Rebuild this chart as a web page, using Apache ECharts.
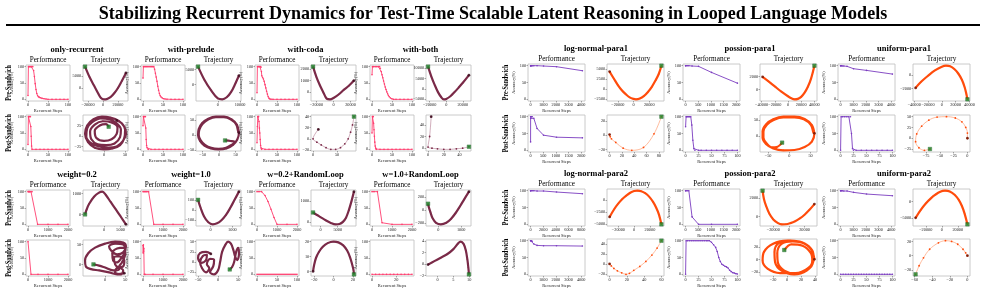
<!DOCTYPE html>
<html><head><meta charset="utf-8">
<script src="https://cdn.jsdelivr.net/npm/echarts@6/dist/echarts.min.js"></script>
<style>html,body{margin:0;padding:0;background:#fff}#c{width:985px;height:293px}</style>
</head><body><div id="c"></div>
<script>
// ---------------- DATA ----------------
const mainTitle = 'Stabilizing Recurrent Dynamics for Test-Time Scalable Latent Reasoning in Looped Language Models';
const groupNames = ['only-recurrent','with-prelude','with-coda','with-both','weight=0.2','weight=1.0','w=0.2+RandomLoop','w=1.0+RandomLoop',
  'log-normal-para1','possion-para1','uniform-para1','log-normal-para2','possion-para2','uniform-para2'];
const rowNames = ['Pre-Sandwich','Post-Sandwich'];
const panelTitles = ['Performance','Trajectory'];
const xName = 'Recurrent Steps';
const yName = 'Accuracy(%)';
const accTicks = [0,50,100];

// only-recurrent
const OR_prePerf = [[0,12],[1,100],[2,100],[4,100],[6,100],[8,100],[10,100],[12,100],[14,88],[16,70],[18,48],[20,30],[22,18],[24,11],[26,8],[28,6],[31,5],[35,3],[40,2],[45,1],[50,0],[60,0],[70,0],[80,0],[90,0],[100,0]];
const OR_postPerf = [[0,15],[1,100],[2,100],[4,100],[6,100],[7,70],[8,40],[9,10],[10,0],[20,0],[30,0],[40,0],[50,0],[60,0],[70,0],[80,0],[90,0],[100,0]];
const OR_preTraj = [[30700,6200],[25000,2800],[20000,0],[15000,-2200],[10000,-3800],[5000,-4600],[1000,-4700],[-3000,-4000],[-6000,-2500],[-12000,1000],[-18000,4500],[-24000,8800]];
const OR_postTraj = [[30,37],[42,30],[50,15],[48,-5],[38,-22],[20,-30],[0,-32],[-22,-28],[-38,-15],[-45,5],[-40,25],[-25,40],[-5,46],[15,44],[35,36],[48,22],[52,5],[45,-12],[30,-25],[10,-28],[-12,-25],[-30,-18],[-42,-2],[-40,18],[-28,33],[-8,42],[12,40],[30,30],[40,15],[38,-3],[25,-18],[5,-22],[-15,-20],[-30,-8],[-33,10],[-22,27],[-3,35],[18,32],[32,20],[30,5],[18,-8],[0,-12],[-18,-5],[-22,12],[-10,25],[5,28],[11,22]];
// with-prelude
const WP_prePerf = [[0,65],[1,100],[3,100],[6,100],[9,100],[12,100],[15,100],[18,100],[21,100],[24,100],[27,100],[29,92],[31,80],[33,68],[35,55],[37,40],[39,28],[41,18],[43,11],[45,7],[48,4],[51,2],[55,1],[60,0],[70,0],[80,0],[90,0],[100,0]];
const WP_postPerf = [[0,72],[1,100],[2,100],[4,100],[6,100],[7,65],[8,30],[9,12],[10,5],[12,1],[14,0],[20,0],[30,0],[40,0],[50,0],[60,0],[70,0],[80,0],[90,0],[100,0]];
const WP_preTraj = [[9500,3000],[8000,500],[6000,-2500],[4000,-4300],[2000,-5000],[0,-4700],[-3000,-2000],[-6000,1500],[-8900,6000]];
const WP_postTraj = [[60,8],[54,35],[38,53],[15,62],[-10,62],[-33,55],[-52,40],[-62,20],[-64,0],[-58,-20],[-45,-35],[-25,-45],[-2,-48],[22,-45],[42,-33],[55,-15],[60,8],[58,10],[52,35],[36,52],[14,60],[-10,60],[-32,53],[-50,38],[-60,18],[-62,0],[-56,-18],[-43,-33],[-24,-43],[-2,-46],[21,-43],[40,-31],[48,-24],[35,-20],[18,-18]];
// with-coda
const WC_prePerf = [[0,20],[1,100],[3,100],[5,100],[7,100],[9,100],[10,98],[11,85],[12,72],[14,67],[16,62],[18,55],[20,45],[22,35],[24,25],[26,16],[28,8],[30,3],[32,1],[35,0],[40,0],[50,0],[60,0],[70,0],[80,0],[90,0],[100,0]];
const WC_postPerf = [[0,20],[1,70],[2,100],[3,100],[4,100],[5,85],[6,65],[7,50],[8,30],[9,12],[10,4],[11,1],[12,0],[20,0],[30,0],[40,0],[50,0],[60,0],[70,0],[80,0],[90,0],[100,0]];
const WC_preTraj = [[24000,1000],[18000,550],[12000,200],[6000,-200],[0,-500],[-4000,-620],[-8000,-560],[-12000,0],[-16000,600],[-20000,1300],[-24000,2200]];
const WC_postTraj = [[11,17],[0,0],[8,-6],[17,-11],[27,-16],[37,-19],[47,-19],[57,-16],[66,-9],[73,0],[78,12],[82,25],[85,40]];
// with-both
const WB_prePerf = [[0,75],[1,100],[4,100],[8,100],[12,100],[16,100],[19,100],[21,95],[23,85],[25,75],[27,66],[29,56],[31,47],[33,38],[35,30],[37,23],[39,17],[41,12],[43,8],[46,4],[50,1],[54,0],[60,0],[70,0],[80,0],[90,0],[100,0]];
const WB_postPerf = [[0,50],[1,100],[2,100],[3,100],[4,80],[5,60],[6,40],[7,22],[8,10],[9,4],[10,1],[11,0],[20,0],[30,0],[40,0],[50,0],[60,0],[70,0],[80,0],[90,0],[100,0]];
const WB_preTraj = [[27400,6700],[20000,3000],[15000,700],[10000,-1500],[5000,-3500],[0,-4800],[-3000,-5000],[-6000,-4000],[-10000,-1500],[-14000,2000],[-18000,6000],[-22000,10800]];
const WB_postTraj = [[4,54],[2,20],[0,2],[5,0],[12,-1],[20,-2],[28,-2],[36,-1],[44,0],[52,2.5]];
// weight=0.2
const W02_prePerf = [[0,100],[25,100],[50,100],[75,100],[100,100],[150,100],[200,100],[480,0],[1000,0],[1500,0],[2000,0]];
const W02_postPerf = [[0,100],[150,0],[500,0],[1000,0],[1500,0],[2000,0]];
const W02_preTraj = [[6600,-480],[5000,-100],[3500,250],[2000,600],[500,950],[-500,1100],[-1500,1050],[-3000,850],[-4500,500],[-5200,250],[-5700,0]];
const W02_postTraj = [[48,-22],[30,-25],[10,-20],[-15,-15],[-35,-12],[-48,-5],[-50,10],[-42,28],[-25,42],[0,52],[25,57],[45,55],[52,45],[45,30],[30,25],[15,35],[10,45],[25,52],[45,50],[50,35],[40,15],[30,5],[20,10],[18,28],[30,40],[48,42],[50,25],[42,5],[35,-5],[45,-15],[40,-25],[25,-20],[30,-8],[45,-5],[48,10],[35,20],[22,18],[25,0],[35,-12],[20,-15],[0,-8],[-15,-3],[-29,0]];
// weight=1.0
const W10_prePerf = [[0,100],[50,100],[100,100],[150,100],[200,100],[280,100],[540,0],[1000,0],[1500,0],[2000,0]];
const W10_postPerf = [[0,88],[10,65],[20,90],[30,70],[40,80],[60,0],[100,0],[500,0],[1000,0],[1500,0],[2000,0]];
const W10_preTraj = [[1300,180],[1100,100],[900,20],[700,-50],[500,-100],[300,-130],[100,-140],[-100,-120],[-300,-60],[-450,20],[-570,100]];
const W10_postTraj = [[-18,20],[-30,25],[-45,22],[-50,10],[-42,-2],[-30,5],[-28,18],[-38,15],[-45,0],[-40,-15],[-30,-25],[-22,-15],[-28,-5],[-20,8],[-10,5],[-12,-10],[-20,-25],[-10,-30],[0,-20],[5,0],[10,25],[18,42],[25,50],[32,45],[38,30],[42,15],[48,5],[52,20],[50,35],[45,25],[40,0],[35,-12],[29,-18]];
// w=0.2+RandomLoop
const W02R_prePerf = [[0,100],[100,100],[230,100],[400,88],[550,70],[700,46],[850,21],[1000,0],[1500,0],[2000,0]];
const W02R_postPerf = [[0,0],[5,0],[10,0],[15,0],[20,0],[25,0],[30,0],[35,0],[40,0],[45,0],[50,0],[55,0],[60,0],[65,0],[70,0],[75,0],[80,0],[85,0],[90,0],[95,0],[100,0]];
const W02R_preTraj = [[9700,1450],[9000,1000],[8200,550],[7400,200],[6500,0],[5500,-100],[4400,-120],[3000,-50],[1500,80],[0,230],[-1000,330],[-2150,450]];
const W02R_postTraj = [[-21,0],[-20,4],[-18,9],[-15,13],[-11,16.5],[-6,19],[0,20],[5,19.5],[10,17.5],[14,14],[17,9.5],[19,5],[20.5,1],[21,-2]];
// w=1.0+RandomLoop
const W10R_prePerf = [[0,100],[100,100],[270,100],[500,5],[1000,0],[1500,0],[2000,0]];
const W10R_postPerf = [[0,0],[3,0],[6,0],[9,0],[12,0],[15,0],[18,0],[21,0],[24,0],[27,0],[30,0],[33,0]];
const W10R_preTraj = [[1340,290],[1150,180],[950,60],[750,-50],[550,-140],[350,-200],[110,-225],[-100,-200],[-250,-130],[-350,-30],[-420,50],[-450,100]];
const W10R_postTraj = [[-3,-0.1],[-1,0.5],[1,1.1],[3,1.7],[5,2.6],[6.5,3.6],[7.3,3.9],[8.2,3.5],[8.9,2.4],[9.4,0.8],[9.7,-0.6],[9.9,-1.8]];
// log-normal-para1
const LN1_prePerf = [[0,99],[1,100],[16,100],[64,100],[128,100],[256,100],[512,100],[1024,99],[2048,97],[4096,85]];
const LN1_postPerf = [[0,25],[1,95],[2,100],[4,100],[8,100],[16,100],[32,100],[64,100],[128,95],[256,65],[512,45],[1024,39],[2048,37]];
const LN1_preTraj = [[-30500,4400],[-25000,2600],[-20000,1000],[-15000,-300],[-10000,-1300],[-5000,-2100],[0,-2500],[3000,-2600],[8000,-2400],[13000,-1800],[18000,-800],[23000,500],[28000,2200],[32000,3800],[35400,5900]];
const LN1_postTraj = [[0,1],[1,-2],[3,-5],[10,-10],[22,-18],[36,-21],[55,-17],[72,2],[84,26]];
// possion-para1
const PO1_prePerf = [[0,100],[1,100],[16,100],[64,100],[128,100],[256,99],[512,98],[1024,80],[2048,48]];
const PO1_postPerf = [[0,70],[1,100],[2,100],[4,100],[6,100],[8,100],[10,100],[12,75],[14,30],[16,5],[18,0],[25,0],[30,0],[40,0],[50,0],[60,0],[70,0],[80,0],[90,0],[100,0]];
const PO1_preTraj = [[-38500,1950],[-30000,1300],[-20000,500],[-10000,-300],[0,-1000],[5000,-1300],[9700,-1470],[15000,-1400],[20000,-1100],[25000,-500],[30000,400],[35000,1700],[40100,3670]];
const PO1_postTraj = [[59,9],[53,35],[36,54],[12,61],[-14,61],[-38,53],[-55,37],[-63,15],[-63,-5],[-55,-24],[-38,-38],[-14,-44],[12,-43],[36,-34],[53,-17],[59,9],[57,10],[51,35],[34,53],[12,59],[-14,59],[-37,51],[-53,36],[-61,15],[-61,-5],[-53,-23],[-40,-35],[-30,-34],[-17,-20]];
// uniform-para1
const UN1_prePerf = [[0,100],[1,100],[16,100],[64,100],[128,99],[256,99],[512,98],[1024,91],[2048,86],[4096,75]];
const UN1_postPerf = [[0,0],[1,100],[4,100],[8,100],[12,100],[16,100],[19,100],[21,50],[23,5],[25,0],[30,0],[40,0],[50,0],[60,0],[70,0],[80,0],[90,0],[100,0]];
const UN1_preTraj = [[-38000,-1900],[-30000,-1000],[-20000,-100],[-10000,700],[0,1250],[6000,1400],[12000,1300],[18000,900],[24000,200],[29000,-700],[33000,-1800],[35500,-2800],[37000,-3600]];
const UN1_postTraj = [[0,0],[0,12],[-3,25],[-10,38],[-22,47],[-38,50],[-55,49],[-70,42],[-83,28],[-92,10],[-94,-8],[-88,-22],[-78,-28],[-68,-25]];
// log-normal-para2
const LN2_prePerf = [[0,100],[1,100],[16,100],[64,100],[256,100],[512,100],[1024,99],[2048,99],[4096,96],[8192,91]];
const LN2_postPerf = [[0,100],[1,100],[16,100],[64,100],[128,98],[256,90],[512,86],[1024,85],[2048,85],[4096,84]];
const LN2_preTraj = [[-31200,-3480],[-25000,-1800],[-20000,-700],[-15000,200],[-10000,900],[-5000,1500],[0,1850],[4100,1920],[9000,1800],[14000,1400],[19000,700],[24000,-400],[28000,-1600],[31500,-3000],[34600,-5000]];
const LN2_postTraj = [[0,0],[2,-4],[5,-9],[9,-14],[14,-18],[19,-21],[23,-19],[28,-13],[35,-5],[42,5],[49,18],[55,32],[60,47]];
// possion-para2
const PO2_prePerf = [[0,100],[1,100],[16,100],[64,100],[128,100],[256,22],[512,0],[1024,0],[2048,0]];
const PO2_postPerf = [[0,0],[1,100],[4,100],[8,100],[12,100],[16,100],[20,100],[24,100],[28,100],[32,100],[36,100],[40,100],[43,100],[46,100],[50,95],[54,88],[58,80],[61,68],[64,50],[67,38],[70,30],[73,27],[76,24],[79,22],[82,19],[85,12],[88,8],[91,5],[94,4],[97,2],[100,1]];
const PO2_preTraj = [[32600,1340],[26000,700],[20000,200],[14000,-200],[8000,-500],[2000,-700],[-4000,-820],[-9300,-830],[-14000,-700],[-20000,-300],[-25000,300],[-29000,1100],[-32000,1900],[-33700,2780]];
const PO2_postTraj = [[39,0],[35,15],[22,27],[0,30],[-20,25],[-33,12],[-35,-2],[-28,-15],[-10,-22],[12,-22],[30,-14],[38,0],[36,14],[24,26],[5,30],[-12,26],[-18,12],[-17,-5],[-8,-18],[10,-24],[28,-18],[37,-4],[36,12],[25,25],[8,29],[-8,25],[-14,10],[-13,-6],[-4,-18],[12,-23],[29,-16],[36,-2],[34,10],[22,22],[6,24],[-4,15]];
// uniform-para2
const UN2_prePerf = [[0,100],[1,100],[16,100],[64,100],[128,100],[256,99],[512,99],[1024,95],[2048,90],[4096,85]];
const UN2_postPerf = [[0,0],[5,0],[10,0],[15,0],[20,0],[25,0],[30,0],[35,0],[40,0],[45,0],[50,0],[55,0],[60,0],[65,0],[70,0],[75,0],[80,0],[85,0],[90,0],[95,0],[100,0]];
const UN2_preTraj = [[-32700,-5000],[-26000,-2500],[-20000,-600],[-14000,900],[-8000,2100],[-2000,3000],[4000,3340],[10000,3100],[16000,2100],[21000,600],[25000,-1300],[28500,-3700],[32000,-7000]];
const UN2_postTraj = [[0,0],[-2,4],[-5,9],[-11,16],[-18,20],[-25,21],[-33,18],[-43,9],[-50,-3],[-55,-14],[-59,-26]];

// tick labels: [prePerfX, preTrajX, preTrajY, postPerfX, postTrajX, postTrajY]
const OR_ticks  = [[0,50,100],[-20000,0,20000],[0,5000],[0,50,100],[0,50],[-25,0,25,50]];
const WP_ticks  = [[0,50,100],[0,10000],[0,5000],[0,50,100],[-50,0,50],[-50,0,50]];
const WC_ticks  = [[0,50,100],[-20000,0,20000],[0,1000,2000],[0,50,100],[0,50],[-20,0,20,40]];
const WB_ticks  = [[0,50,100],[-20000,0,20000],[-5000,0,5000,10000],[0,50,100],[0,20,40],[0,20,40]];
const W02_ticks = [[0,1000,2000],[0,5000],[0,1000],[0,1000,2000],[0,50],[0,50]];
const W10_ticks = [[0,1000,2000],[0,1000],[-100,0,100],[0,1000,2000],[-50,0,50],[-25,0,25,50]];
const W02R_ticks= [[0,1000,2000],[0,5000],[0,1000],[0,50,100],[-20,0,20],[0,10,20]];
const W10R_ticks= [[0,1000,2000],[0,1000],[-200,0,200],[0,20],[0,5,10],[-2,0,2,4]];
const LN1_ticks = [[0,1000,2000,3000,4000],[-20000,0,20000],[-2500,0,2500,5000],[0,500,1000,1500,2000],[0,20,40,60,80],[-20,0,20]];
const PO1_ticks = [[0,500,1000,1500,2000],[-40000,-20000,0,20000,40000],[0,2000],[0,25,50,75,100],[-50,0,50],[-50,0,50]];
const UN1_ticks = [[0,1000,2000,3000,4000],[-40000,-20000,0,20000,40000],[-2000,0],[0,25,50,75,100],[-75,-50,-25,0],[-25,0,25,50]];
const LN2_ticks = [[0,2000,4000,6000,8000],[-20000,0,20000],[-5000,-2500,0,2500],[0,1000,2000,3000,4000],[0,20,40,60],[-20,0,20,40]];
const PO2_ticks = [[0,500,1000,1500,2000],[-20000,0,20000],[0,2000],[0,25,50,75,100],[-20,0,20,40],[-20,0,20]];
const UN2_ticks = [[0,1000,2000,3000,4000],[-20000,0,20000],[-5000,0],[0,25,50,75,100],[-60,-40,-20,0],[-20,0,20]];

// ---------------- LAYOUT / STYLE ----------------
const groups = [
  [OR_prePerf,OR_preTraj,OR_postPerf,OR_postTraj,OR_ticks],
  [WP_prePerf,WP_preTraj,WP_postPerf,WP_postTraj,WP_ticks],
  [WC_prePerf,WC_preTraj,WC_postPerf,WC_postTraj,WC_ticks],
  [WB_prePerf,WB_preTraj,WB_postPerf,WB_postTraj,WB_ticks],
  [W02_prePerf,W02_preTraj,W02_postPerf,W02_postTraj,W02_ticks],
  [W10_prePerf,W10_preTraj,W10_postPerf,W10_postTraj,W10_ticks],
  [W02R_prePerf,W02R_preTraj,W02R_postPerf,W02R_postTraj,W02R_ticks],
  [W10R_prePerf,W10R_preTraj,W10R_postPerf,W10R_postTraj,W10R_ticks],
  [LN1_prePerf,LN1_preTraj,LN1_postPerf,LN1_postTraj,LN1_ticks],
  [PO1_prePerf,PO1_preTraj,PO1_postPerf,PO1_postTraj,PO1_ticks],
  [UN1_prePerf,UN1_preTraj,UN1_postPerf,UN1_postTraj,UN1_ticks],
  [LN2_prePerf,LN2_preTraj,LN2_postPerf,LN2_postTraj,LN2_ticks],
  [PO2_prePerf,PO2_preTraj,PO2_postPerf,PO2_postTraj,PO2_ticks],
  [UN2_prePerf,UN2_preTraj,UN2_postPerf,UN2_postTraj,UN2_ticks]
];
// sparse (light line + dots) post trajectories
const sparsePost = {2:true,3:true,8:true,10:true,11:true,13:true};

const L = {perfX:[26,141,255,370], trajX:[83,196,311,426], perfW:44, trajW:45, rows:[65,115,190,240], h:36, titleY:[50,175], rowLabelX:9};
const R = {perfX:[528,683,838], trajX:[607,760,913], perfW:57, trajW:57, rows:[64,115,189,239], h:37, titleY:[49,174], rowLabelX:506};

const FONT = '"Liberation Serif","DejaVu Serif",serif';
const C = {
  leftPerf:'#ff3d6e', rightPerf:'#7b3cc0',
  leftTraj:'#7a2a48', leftTrajLight:'rgba(150,70,100,0.55)', leftStart:'#3a0a1c',
  rightTraj:'#ff4c0c', rightTrajLight:'#ffab85', rightStart:'#6a1000',
  green:'#1f8a2c', frame:'#bdbdbd'
};

const opt = {animation:false, grid:[], xAxis:[], yAxis:[], series:[], graphic:[]};
let gi = 0;
const fmt = v => { const s = String(v); return s.charAt(0)==='-' ? '\u2212'+s.slice(1) : s; };
function dom(vals){ const mn=Math.min(...vals), mx=Math.max(...vals); const p=(mx-mn)*0.05; return [mn-p, mx+p]; }
function text(x,y,str,font,opts){
  opt.graphic.push(Object.assign({type:'text', x:x, y:y, silent:true,
    style:{text:str, font:font, fill:'#000', align:'center', verticalAlign:'middle'}}, opts||{}));
}
function axes(box, xr, yr, xt, yt, named){
  opt.grid.push({left:box[0], top:box[1], width:box[2], height:box[3], show:true, borderColor:C.frame, borderWidth:0.8});
  const tick = {show:true, inside:false, length:1.5, lineStyle:{color:'#555', width:0.5}};
  const lbl = {fontSize:4.3, color:'#222', fontFamily:FONT, margin:1.8, formatter:fmt, hideOverlap:false};
  opt.xAxis.push({type:'value', gridIndex:gi, position:'bottom', min:xr[0], max:xr[1], axisLine:{show:false, onZero:false}, splitLine:{show:false},
    axisTick:Object.assign({customValues:xt}, tick), axisLabel:Object.assign({customValues:xt}, lbl),
    name: named ? xName : '', nameLocation:'middle', nameGap:7.8, nameTextStyle:{fontSize:4.5, fontFamily:FONT, color:'#222'}});
  opt.yAxis.push({type:'value', gridIndex:gi, position:'left', min:yr[0], max:yr[1], axisLine:{show:false, onZero:false}, splitLine:{show:false},
    axisTick:Object.assign({customValues:yt}, tick), axisLabel:Object.assign({customValues:yt}, lbl),
    name: named ? yName : '', nameLocation:'middle', nameGap:8, nameRotate:90, nameTextStyle:{fontSize:4.2, fontFamily:FONT, color:'#222'}});
  return gi++;
}
function perf(box, data, xt, color){
  const i = axes(box, dom(data.map(d=>d[0])), [-5,105], xt, accTicks, true);
  opt.series.push({type:'line', xAxisIndex:i, yAxisIndex:i, data:data, silent:true, symbol:'circle', symbolSize:1.6,
    lineStyle:{width:0.9, color:color}, itemStyle:{color:color}});
}
function traj(box, data, xt, yt, right, sparse){
  const i = axes(box, dom(data.map(d=>d[0])), dom(data.map(d=>d[1])), xt, yt, false);
  const main = right ? C.rightTraj : C.leftTraj;
  const light = right ? C.rightTrajLight : C.leftTrajLight;
  opt.series.push({type:'line', xAxisIndex:i, yAxisIndex:i, data:data, silent:true, smooth:0.35,
    symbol:'circle', symbolSize: sparse ? 1.8 : 1.4,
    lineStyle:{width: sparse ? 0.8 : 2.2, color: sparse ? light : main}, itemStyle:{color:main}});
  opt.series.push({type:'scatter', xAxisIndex:i, yAxisIndex:i, data:[data[0]], silent:true, symbol:'circle', symbolSize:2.8,
    itemStyle:{color: right ? C.rightStart : C.leftStart}, z:5});
  opt.series.push({type:'scatter', xAxisIndex:i, yAxisIndex:i, data:[data[data.length-1]], silent:true, symbol:'rect', symbolSize:3.6,
    itemStyle:{color:C.green, borderColor:'#0d4d14', borderWidth:0.4}, z:6});
}

groups.forEach((g, k) => {
  const right = k >= 8;
  const lay = right ? R : L;
  const col = right ? (k - 8) % 3 : k % 4;
  const half = right ? (k >= 11 ? 1 : 0) : (k >= 4 ? 1 : 0);
  const rPre = lay.rows[half*2], rPost = lay.rows[half*2+1];
  const px = lay.perfX[col], tx = lay.trajX[col];
  const pc = right ? C.rightPerf : C.leftPerf;
  const t = g[4];
  perf([px, rPre, lay.perfW, lay.h], g[0], t[0], pc);
  traj([tx, rPre, lay.trajW, lay.h], g[1], t[1], t[2], right, false);
  perf([px, rPost, lay.perfW, lay.h], g[2], t[3], pc);
  traj([tx, rPost, lay.trajW, lay.h], g[3], t[4], t[5], right, !!sparsePost[k]);
  text((px + tx + lay.trajW)/2, lay.titleY[half], groupNames[k], 'bold 8.5px '+FONT);
  text(px + lay.perfW/2, rPre - 5, panelTitles[0], '7.2px '+FONT);
  text(tx + lay.trajW/2, rPre - 5, panelTitles[1], '7.2px '+FONT);
});
// row labels
[L, R].forEach(lay => {
  for (let h = 0; h < 2; h++) {
    for (let r = 0; r < 2; r++) {
      const top = lay.rows[h*2+r];
      text(lay.rowLabelX, top + lay.h/2, rowNames[r], 'bold 8px '+FONT, {rotation:Math.PI/2, scaleX:0.74});
    }
  }
});
// main title + rule
text(493, 14, mainTitle, 'bold 19px '+FONT, {scaleX:0.95});
opt.graphic.push({type:'line', silent:true, shape:{x1:6, y1:25, x2:980, y2:25}, style:{stroke:'#000', lineWidth:1.8}});

const chart = echarts.init(document.getElementById('c'), null, {renderer:'canvas'});
chart.setOption(opt);
</script></body></html>
